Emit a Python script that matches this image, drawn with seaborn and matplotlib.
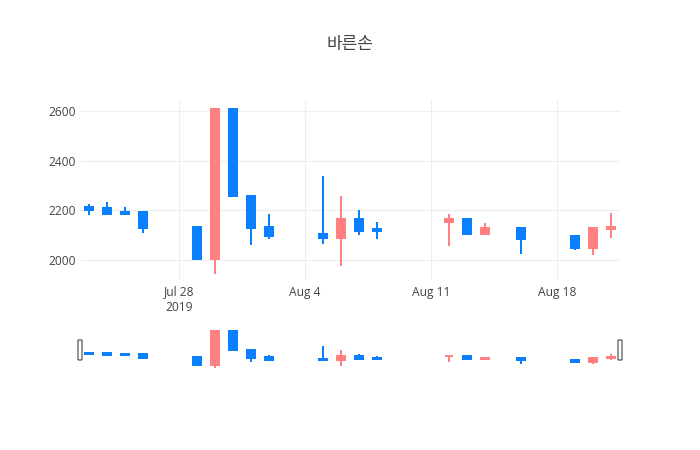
import matplotlib
matplotlib.use("Agg")
import matplotlib.pyplot as plt
import matplotlib.dates as mdates
from matplotlib.patches import FancyBboxPatch
import matplotlib.transforms as mtransforms
import numpy as np
import pandas as pd
import seaborn as sns

# ---- data ----
dates = ["2019-07-23", "2019-07-24", "2019-07-25", "2019-07-26", "2019-07-29",
         "2019-07-30", "2019-07-31", "2019-08-01", "2019-08-02", "2019-08-05",
         "2019-08-06", "2019-08-07", "2019-08-08", "2019-08-12", "2019-08-13",
         "2019-08-14", "2019-08-16", "2019-08-19", "2019-08-20", "2019-08-21"]
open_ = [2215, 2210, 2195, 2195, 2135, 2005, 2610, 2260, 2135, 2105,
         2090, 2165, 2125, 2155, 2165, 2105, 2130, 2095, 2050, 2125]
high = [2225, 2235, 2215, 2195, 2135, 2610, 2610, 2260, 2185, 2340,
        2260, 2200, 2155, 2185, 2165, 2150, 2130, 2100, 2130, 2190]
low = [2180, 2180, 2180, 2110, 2000, 1945, 2260, 2060, 2085, 2065,
       1975, 2100, 2085, 2055, 2105, 2105, 2025, 2040, 2020, 2090]
close = [2200, 2185, 2185, 2130, 2005, 2610, 2260, 2130, 2095, 2090,
         2165, 2115, 2115, 2165, 2105, 2130, 2085, 2050, 2130, 2135]
title = "바른손"
xtick_dates = ["2019-07-28", "2019-08-04", "2019-08-11", "2019-08-18"]
xtick_labels = ["Jul 28\n2019", "Aug 4", "Aug 11", "Aug 18"]
ytick_values = [2000, 2200, 2400, 2600]

UP = "#FF8080"
DOWN = "#0A80FF"

sns.set_theme(style="white")
plt.rcParams["font.family"] = ["Open Sans", "Noto Sans CJK KR", "DejaVu Sans"]

df = pd.DataFrame({"date": pd.to_datetime(dates), "open": open_, "high": high,
                   "low": low, "close": close})
df["x"] = mdates.date2num(df["date"])
df["color"] = np.where(df["close"] >= df["open"], UP, DOWN)
df["bottom"] = df[["open", "close"]].min(axis=1)
df["height"] = (df["open"] - df["close"]).abs()

W, H = 700, 450
fig = plt.figure(figsize=(7, 4.5), dpi=100)
ax = fig.add_axes([80 / W, 1 - 280 / H, 540 / W, 180 / H])
axs = fig.add_axes([80 / W, 1 - 370 / H, 540 / W, 41 / H])

xmin = df["x"].min() - 0.5
xmax = df["x"].max() + 0.5
lw = 2 * 72 / 100  # 2px
body_w = 0.44


def draw(a):
    a.vlines(df["x"], df["low"], df["high"], colors=df["color"], linewidth=lw, zorder=2)
    a.bar(df["x"], df["height"], bottom=df["bottom"], width=body_w,
          color=df["color"], edgecolor=df["color"], linewidth=lw, zorder=3)
    a.set_xlim(xmin, xmax)


draw(ax)
draw(axs)

pad = (max(high) - min(low)) * 0.05
ax.set_ylim(1919, 2646)
axs.set_ylim(min(low) - pad, max(high) + pad)

for a in (ax, axs):
    for s in a.spines.values():
        s.set_visible(False)
    a.set_facecolor("white")

ax.set_xticks(mdates.date2num(pd.to_datetime(xtick_dates)))
ax.set_xticklabels(xtick_labels)
ax.set_yticks(ytick_values)
ax.set_yticklabels([str(v) for v in ytick_values])
ax.tick_params(axis="both", length=0, labelsize=8.64, colors="#444444")
ax.tick_params(axis="x", pad=4)
ax.tick_params(axis="y", pad=3)
ax.grid(True, color="#eeeeee", linewidth=0.75)
ax.set_axisbelow(True)

axs.set_xticks([])
axs.set_yticks([])
axs.grid(False)

# range-slider handles
trans = mtransforms.blended_transform_factory(axs.transData, fig.transFigure)
hw = 4 / 18.0
for xe in (xmin, xmax):
    p = FancyBboxPatch((xe - hw / 2, 1 - 360 / H), hw, 20 / H,
                       boxstyle="round,pad=0,rounding_size=0.05",
                       transform=trans, facecolor="white", edgecolor="#444444",
                       linewidth=0.8, clip_on=False, zorder=5,
                       mutation_aspect=0.01)
    fig.add_artist(p)

fig.text(0.5, 1 - 43.5 / H, title, ha="center", va="center", fontsize=12.24,
         color="#444444", family=["Noto Sans CJK KR", "DejaVu Sans"])

fig.savefig("out.png", dpi=100, facecolor="white")
